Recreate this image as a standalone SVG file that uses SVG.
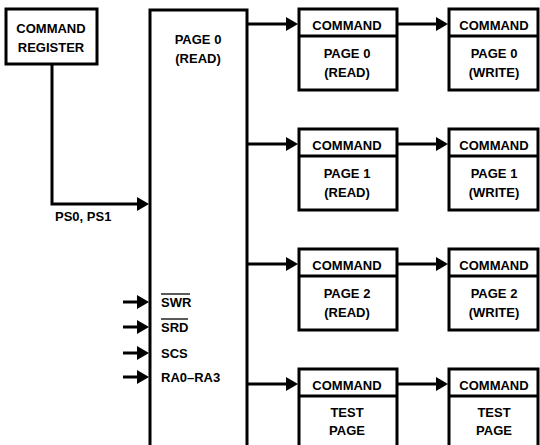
<svg xmlns="http://www.w3.org/2000/svg" width="540" height="445" viewBox="0 0 540 445">
<style>
.box{fill:#fff;stroke:#000;stroke-width:3}
.ln{fill:none;stroke:#000;stroke-width:3}
.t{font-family:"Liberation Sans","DejaVu Sans",Arial,sans-serif;font-weight:bold;font-size:13px;fill:#000;text-anchor:middle}
.l{font-family:"Liberation Sans","DejaVu Sans",Arial,sans-serif;font-weight:bold;font-size:13px;fill:#000}
</style>
<defs>
<marker id="ah" markerUnits="userSpaceOnUse" markerWidth="12" markerHeight="14" refX="2" refY="7" orient="auto">
<path d="M0,0 L12,7 L0,14 z" fill="#000"/>
</marker>
</defs>
<rect width="540" height="445" fill="#fff"/>

<g id="command-register">
<rect class="box" x="6" y="9" width="91" height="55"/>
<text class="t" x="51" y="33">COMMAND</text>
<text class="t" x="51" y="52">REGISTER</text>
</g>

<g id="page0-read-main">
<path class="ln" d="M150,446 V10 H247 V446"/>
<text class="t" x="198" y="44">PAGE 0</text>
<text class="t" x="198" y="63">(READ)</text>
<text class="l" x="161" y="307">SWR</text>
<line x1="161" y1="294" x2="190" y2="294" stroke="#000" stroke-width="1.3"/>
<text class="l" x="161" y="332">SRD</text>
<line x1="161" y1="319" x2="188" y2="319" stroke="#000" stroke-width="1.3"/>
<text class="l" x="161" y="358">SCS</text>
<text class="l" x="161" y="382">RA0–RA3</text>
</g>

<g id="cmd-page0-read">
<rect class="box" x="299" y="9" width="98" height="81"/>
<line class="ln" x1="299" y1="36" x2="397" y2="36"/>
<text class="t" x="347" y="30">COMMAND</text>
<text class="t" x="347" y="58">PAGE 0</text>
<text class="t" x="347" y="77">(READ)</text>
</g>
<g id="cmd-page0-write">
<rect class="box" x="449" y="9" width="89" height="81"/>
<line class="ln" x1="449" y1="36" x2="538" y2="36"/>
<text class="t" x="494" y="30">COMMAND</text>
<text class="t" x="494" y="58">PAGE 0</text>
<text class="t" x="494" y="77">(WRITE)</text>
</g>

<g id="cmd-page1-read">
<rect class="box" x="299" y="129" width="98" height="81"/>
<line class="ln" x1="299" y1="156" x2="397" y2="156"/>
<text class="t" x="347" y="150">COMMAND</text>
<text class="t" x="347" y="178">PAGE 1</text>
<text class="t" x="347" y="197">(READ)</text>
</g>
<g id="cmd-page1-write">
<rect class="box" x="449" y="129" width="89" height="81"/>
<line class="ln" x1="449" y1="156" x2="538" y2="156"/>
<text class="t" x="494" y="150">COMMAND</text>
<text class="t" x="494" y="178">PAGE 1</text>
<text class="t" x="494" y="197">(WRITE)</text>
</g>

<g id="cmd-page2-read">
<rect class="box" x="299" y="249" width="98" height="81"/>
<line class="ln" x1="299" y1="276" x2="397" y2="276"/>
<text class="t" x="347" y="270">COMMAND</text>
<text class="t" x="347" y="298">PAGE 2</text>
<text class="t" x="347" y="317">(READ)</text>
</g>
<g id="cmd-page2-write">
<rect class="box" x="449" y="249" width="89" height="81"/>
<line class="ln" x1="449" y1="276" x2="538" y2="276"/>
<text class="t" x="494" y="270">COMMAND</text>
<text class="t" x="494" y="298">PAGE 2</text>
<text class="t" x="494" y="317">(WRITE)</text>
</g>

<g id="cmd-test-read">
<path class="ln" d="M299,446 V369 H397 V446"/>
<line class="ln" x1="299" y1="396" x2="397" y2="396"/>
<text class="t" x="347" y="390">COMMAND</text>
<text class="t" x="347" y="417">TEST</text>
<text class="t" x="347" y="435">PAGE</text>
</g>
<g id="cmd-test-write">
<path class="ln" d="M449,446 V369 H538 V446"/>
<line class="ln" x1="449" y1="396" x2="538" y2="396"/>
<text class="t" x="494" y="390">COMMAND</text>
<text class="t" x="494" y="417">TEST</text>
<text class="t" x="494" y="435">PAGE</text>
</g>

<g id="connectors">
<path class="ln" d="M52,64 V204 H139" marker-end="url(#ah)"/>
<text class="l" x="55" y="221">PS0, PS1</text>
<line class="ln" x1="247" y1="24" x2="288" y2="24" marker-end="url(#ah)"/>
<line class="ln" x1="247" y1="144" x2="288" y2="144" marker-end="url(#ah)"/>
<line class="ln" x1="247" y1="264" x2="288" y2="264" marker-end="url(#ah)"/>
<line class="ln" x1="247" y1="384" x2="288" y2="384" marker-end="url(#ah)"/>
<line class="ln" x1="397" y1="24" x2="438" y2="24" marker-end="url(#ah)"/>
<line class="ln" x1="397" y1="144" x2="438" y2="144" marker-end="url(#ah)"/>
<line class="ln" x1="397" y1="264" x2="438" y2="264" marker-end="url(#ah)"/>
<line class="ln" x1="397" y1="384" x2="438" y2="384" marker-end="url(#ah)"/>
<line class="ln" x1="123" y1="302" x2="139" y2="302" marker-end="url(#ah)"/>
<line class="ln" x1="123" y1="327" x2="139" y2="327" marker-end="url(#ah)"/>
<line class="ln" x1="123" y1="353" x2="139" y2="353" marker-end="url(#ah)"/>
<line class="ln" x1="123" y1="377" x2="139" y2="377" marker-end="url(#ah)"/>
</g>
</svg>
